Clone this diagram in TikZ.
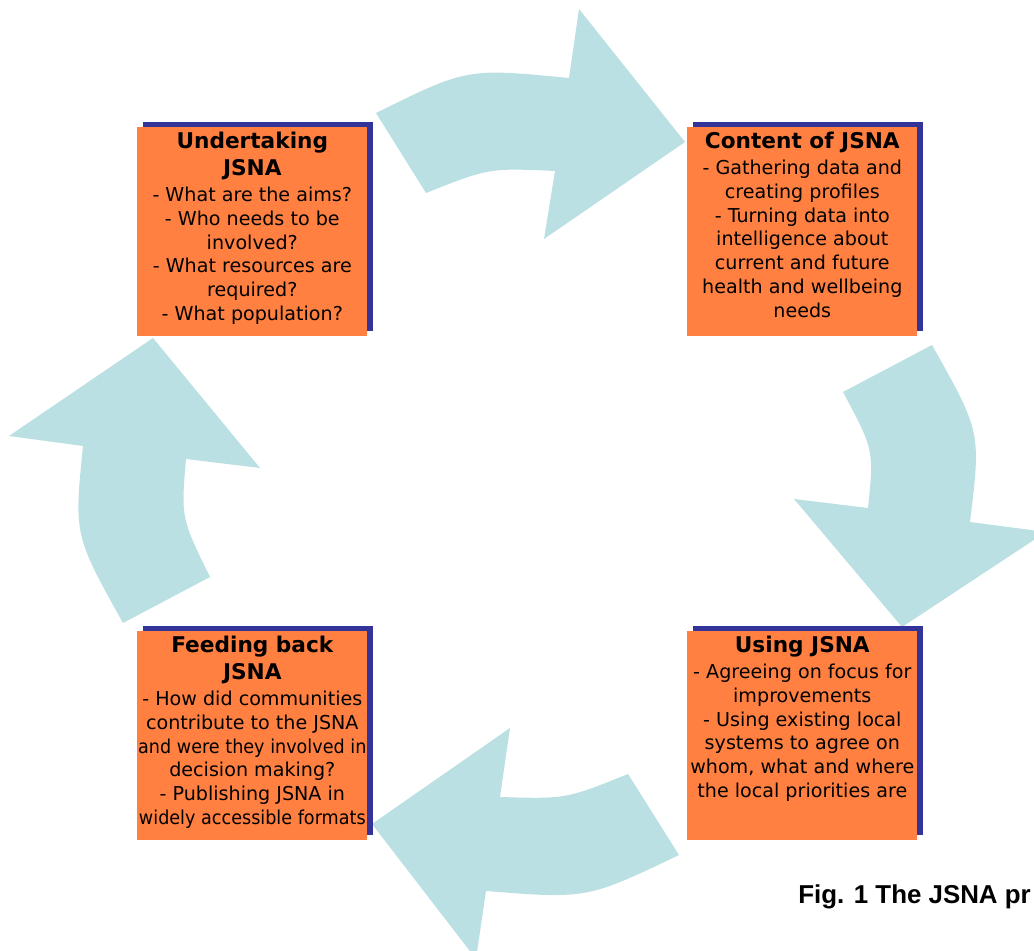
\documentclass[tikz,border=0pt]{standalone}
\usepackage{fontspec}
\setmainfont{DejaVu Sans}
\newfontfamily\capfont{Liberation Sans}
\usetikzlibrary{shadows}

\definecolor{stageorange}{RGB}{255,128,64}
\definecolor{shadowblue}{RGB}{51,51,153}
\definecolor{cyclecyan}{RGB}{187,224,227}

% title and points of one stage, top aligned in the box
\newcommand{\stagetext}[2]{%
  \begin{minipage}[t][148.7pt][t]{163.6pt}\centering
    \leftskip=-12pt plus 1fil \rightskip=\leftskip
    \vspace*{3.5pt}%
    {\fontsize{15.4pt}{19.2pt}\selectfont\bfseries #1\par}
    \vspace{1.5pt}%
    {\fontsize{13.6pt}{16.9pt}\selectfont #2\par}
  \end{minipage}}
% a line that is set a little narrower
\newcommand{\narrowline}[1]{{\addfontfeature{FakeStretch=0.92}#1}}

\begin{document}
\begin{tikzpicture}
          [x=0.025cm, y=-0.025cm,
          stage/.style={shape=rectangle,fill=stageorange,inner sep=0pt,anchor=north west,
            general shadow={fill=shadowblue,shadow xshift=3.9pt,shadow yshift=3.9pt}},
          cyclearrow/.style={fill=cyclecyan,draw=none}]

          \useasboundingbox (0,0) rectangle (1034,951);
          \clip (0,0) rectangle (1034,951);

          % the four curved arrows of the cycle
          \fill [cyclearrow] (376,113) .. controls (467,68) .. (569,78) -- (579,9) -- (685,142)
            -- (544,239) -- (555,171) .. controls (489,168) .. (426,193) -- cycle;
          \fill [cyclearrow] (932,345) .. controls (981,432) .. (970,522) -- (1046,532) -- (902,627)
            -- (794,499) -- (868,508) .. controls (874,450) .. (843,392) -- cycle;
          \fill [cyclearrow] (679,855) .. controls (587,899) .. (486,891) -- (476,959) -- (372,824)
            -- (510,728) -- (500,797) .. controls (566,799) .. (628,774) -- cycle;
          \fill [cyclearrow] (123,623) .. controls (74,535) .. (83,446) -- (9,436) -- (153,338)
            -- (260,468) -- (186,459) .. controls (181,518) .. (210,577) -- cycle;

            \node (undertaking) [stage] at (137,127) {\stagetext{Undertaking\\JSNA}
              {- What are the aims?\\- Who needs to be\\involved?\\- What resources are\\required?\\- What population?}};
            \node (content) [stage] at (687,127) {\stagetext{Content of JSNA}
              {- Gathering data and\\creating profiles\\- Turning data into\\intelligence about\\current and future\\health and wellbeing\\needs}};
            \node (using) [stage] at (687,631) {\stagetext{Using JSNA}
              {- Agreeing on focus for\\improvements\\- Using existing local\\systems to agree on\\whom, what and where\\the local priorities are}};
            \node (feeding) [stage] at (137,631) {\stagetext{Feeding back\\JSNA}
              {- How did communities\\contribute to the JSNA\\\narrowline{and were they involved in}\\decision making?\\- Publishing JSNA in\\\narrowline{widely accessible formats}}};

            \node (fig) [anchor=base west,inner sep=0pt,font=\capfont\bfseries\fontsize{18.4pt}{22pt}\selectfont] at (798,903) {Fig. 1 The JSNA pr};

        \end{tikzpicture}
\end{document}
